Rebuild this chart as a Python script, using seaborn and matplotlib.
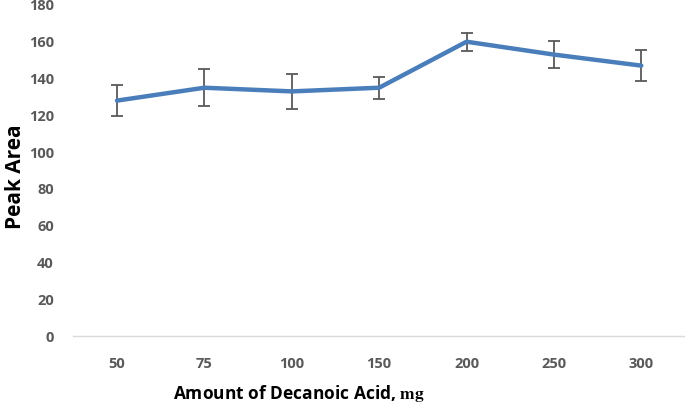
import matplotlib
matplotlib.use("Agg")
import matplotlib.pyplot as plt
import seaborn as sns
import pandas as pd

categories = ["50", "75", "100", "150", "200", "250", "300"]
peak_area = [128, 135, 133, 135, 160, 153, 147]
errors = [8.5, 10, 9.5, 6, 5, 7.5, 8.5]
yticks = [0, 20, 40, 60, 80, 100, 120, 140, 160, 180]

sns.set_theme(style="white")
plt.rcParams['font.family'] = ['Open Sans', 'DejaVu Sans']
plt.rcParams['mathtext.fontset'] = 'stix'

df = pd.DataFrame({"amount": categories, "area": peak_area})

fig = plt.figure(figsize=(6.85, 4.08), dpi=100)
ax = fig.add_axes([0.107, 0.176, 0.893, 0.812])

ax.errorbar(categories, peak_area, yerr=errors, fmt='none', ecolor='#595959',
            elinewidth=1.3, capsize=4, capthick=1.3, zorder=2)
sns.lineplot(data=df, x="amount", y="area", ax=ax, color='#4a7ebb',
             linewidth=3.2, sort=False, zorder=3)

ax.set_xlim(-0.5, 6.5)
ax.set_ylim(0, 180)
ax.set_yticks(yticks)
ax.set_yticklabels([str(v) for v in yticks])
for s in ["top", "right", "left"]:
    ax.spines[s].set_visible(False)
ax.spines["bottom"].set_color('#d9d9d9')
ax.spines["bottom"].set_linewidth(1)
ax.tick_params(axis='both', length=0, labelsize=10.5, labelcolor='#595959')
ax.tick_params(axis='x', pad=15)
ax.tick_params(axis='y', pad=14)
for lab in ax.get_xticklabels() + ax.get_yticklabels():
    lab.set_fontweight('bold')

ax.set_xlabel(r"Amount of Decanoic Acid, $\mathbf{mg}$", fontsize=12.5,
              fontweight='bold', color='black')
ax.set_ylabel("Peak Area", fontsize=15, fontweight='bold', color='black')
ax.xaxis.set_label_coords(0.368, -0.14)
ax.yaxis.set_label_coords(-0.078, 0.48)

fig.savefig("out.png", dpi=100)
